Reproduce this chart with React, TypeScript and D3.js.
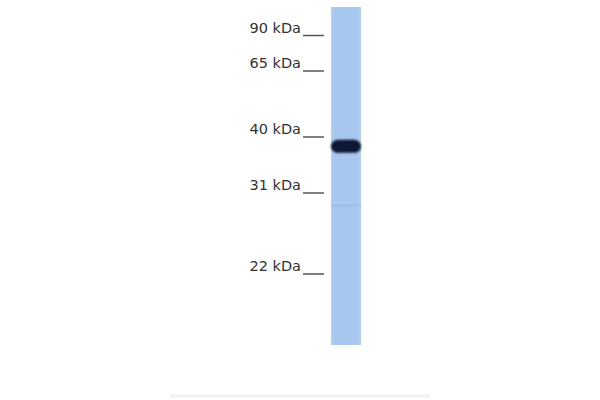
import { useEffect, useRef } from "react";
import * as d3 from "d3";

// marker ladder (kDa) and where each marker sits on the membrane
const markers = [90, 65, 40, 31, 22];
const markerLabels = ["90 kDa", "65 kDa", "40 kDa", "31 kDa", "22 kDa"];

// detected bands: size (kDa) and intensity (0..1)
const bandSizes = [38.5, 29];
const bandIntensity = [1, 0.08];

export default function App() {
  const svgRef = useRef<SVGSVGElement | null>(null);

  useEffect(() => {
    if (!svgRef.current) return;

    const width = 600;
    const height = 400;

    const svg = d3.select(svgRef.current);
    svg.selectAll("*").remove();
    svg.attr("width", width).attr("height", height);

    // gel migration isn't log-linear, so calibrate piecewise on the ladder
    const y = d3.scaleLinear().domain(markers).range([35.5, 71, 137, 193, 274]);

    const laneX = 331;
    const laneW = 30;
    const laneTop = 7;
    const laneBottom = 345;

    const defs = svg.append("defs");
    const grad = defs.append("linearGradient").attr("id", "lane").attr("x1", 0).attr("x2", 1);
    grad.append("stop").attr("offset", "0%").attr("stop-color", "#b3cff0");
    grad.append("stop").attr("offset", "15%").attr("stop-color", "#a8c7ee");
    grad.append("stop").attr("offset", "85%").attr("stop-color", "#a8c7ee");
    grad.append("stop").attr("offset", "100%").attr("stop-color", "#b3cff0");

    defs.append("filter").attr("id", "blur")
      .append("feGaussianBlur").attr("stdDeviation", 0.8);

    svg.append("rect")
      .attr("x", laneX)
      .attr("y", laneTop)
      .attr("width", laneW)
      .attr("height", laneBottom - laneTop)
      .attr("fill", "url(#lane)");

    const color = d3.interpolateRgb("#a8c7ee", "#0a1830");

    svg.append("g").selectAll("rect")
      .data(bandSizes)
      .join("rect")
      .attr("x", laneX)
      .attr("y", d => y(d) - 6.5)
      .attr("width", laneW)
      .attr("height", (_, i) => (bandIntensity[i] > 0.5 ? 13 : 2))
      .attr("rx", (_, i) => (bandIntensity[i] > 0.5 ? 7 : 0))
      .attr("fill", (_, i) => color(bandIntensity[i]))
      .attr("filter", "url(#blur)");

    const g = svg.append("g").attr("fill", "#333");

    g.selectAll("text")
      .data(markers)
      .join("text")
      .attr("x", 301)
      .attr("y", d => y(d) - 3)
      .attr("text-anchor", "end")
      .attr("font-family", "DejaVu Sans, sans-serif")
      .attr("font-size", 14.5)
      .text((_, i) => markerLabels[i]);

    svg.append("g").selectAll("line")
      .data(markers)
      .join("line")
      .attr("x1", 303)
      .attr("x2", 324)
      .attr("y1", d => y(d))
      .attr("y2", d => y(d))
      .attr("stroke", "#555")
      .attr("stroke-width", 1.5);

    // faint rule along the bottom edge
    svg.append("line")
      .attr("x1", 170)
      .attr("x2", 430)
      .attr("y1", 396)
      .attr("y2", 396)
      .attr("stroke", "#f2f2f2")
      .attr("stroke-width", 3);
  }, []);

  return (
    <svg
      ref={svgRef}
      style={{ position: "absolute", left: 0, top: 0, background: "#fff" }}
    />
  );
}
